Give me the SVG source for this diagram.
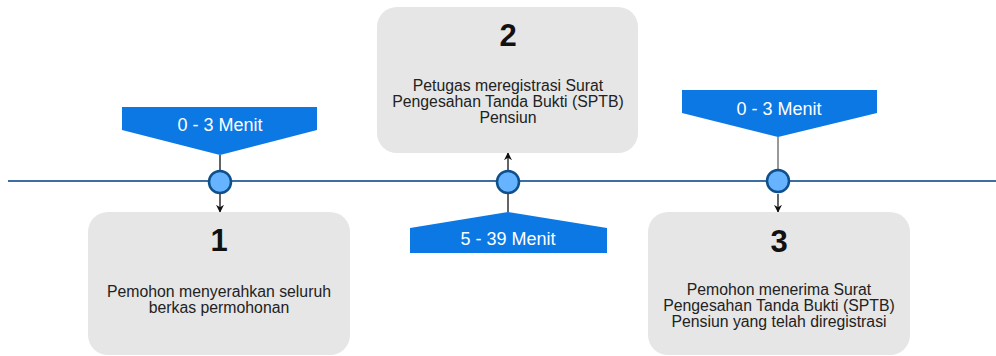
<svg xmlns="http://www.w3.org/2000/svg" width="996" height="356" viewBox="0 0 996 356">
<style>
.box{fill:#e6e6e6;stroke:none}
.ban{fill:#0b78e3}
.bt{font-family:"Liberation Sans",Arial,sans-serif;font-size:18px;fill:#ffffff;text-anchor:middle}
.num{font-family:"Liberation Sans",Arial,sans-serif;font-size:31px;font-weight:bold;fill:#111;text-anchor:middle}
.tx{font-family:"Liberation Sans",Arial,sans-serif;font-size:15.8px;fill:#222;text-anchor:middle}
.dot{fill:#66b3ff;stroke:#0e4f8c;stroke-width:2.5}
.c{stroke:#111;stroke-width:1.3;fill:none}
</style>
<defs>
<marker id="ah" viewBox="0 0 10 10" refX="9" refY="5" markerWidth="8" markerHeight="8" markerUnits="userSpaceOnUse" orient="auto">
<path d="M0,0 L10,5 L0,10 L3,5 z" fill="#111"/>
</marker>
</defs>
<line x1="8" y1="181" x2="996" y2="181" stroke="#3d6ea3" stroke-width="2"/>
<g id="connectors">
<line class="c" x1="220" y1="155" x2="220" y2="170"/>
<line class="c" x1="220" y1="194" x2="220" y2="212" marker-end="url(#ah)"/>
<line class="c" x1="508" y1="212" x2="508" y2="194"/>
<line class="c" x1="508" y1="170" x2="508" y2="153" marker-end="url(#ah)"/>
<line x1="778" y1="137" x2="778" y2="169" stroke="#777" stroke-width="1.5"/>
<line class="c" x1="778" y1="194" x2="778" y2="212" marker-end="url(#ah)"/>
</g>
<g id="node1">
<rect class="box" x="88" y="212" width="262" height="143" rx="20"/>
<text class="num" x="219" y="251">1</text>
<text class="tx" x="219" y="297">Pemohon menyerahkan seluruh</text>
<text class="tx" x="219" y="313">berkas permohonan</text>
</g>
<g id="node2">
<rect class="box" x="377" y="7" width="261" height="146" rx="20"/>
<text class="num" x="508" y="46">2</text>
<text class="tx" x="508" y="91">Petugas meregistrasi Surat</text>
<text class="tx" x="508" y="107">Pengesahan Tanda Bukti (SPTB)</text>
<text class="tx" x="508" y="123">Pensiun</text>
</g>
<g id="node3">
<rect class="box" x="648" y="212" width="262" height="143" rx="20"/>
<text class="num" x="779" y="252">3</text>
<text class="tx" x="779" y="295">Pemohon menerima Surat</text>
<text class="tx" x="779" y="311">Pengesahan Tanda Bukti (SPTB)</text>
<text class="tx" x="779" y="327">Pensiun yang telah diregistrasi</text>
</g>
<g id="banner1">
<polygon class="ban" points="122,107 317,107 317,130 220,155 122,130"/>
<text class="bt" x="220" y="131">0 - 3 Menit</text>
</g>
<g id="banner2">
<polygon class="ban" points="508,212 607,228 607,253 410,253 410,228"/>
<text class="bt" x="508" y="245">5 - 39 Menit</text>
</g>
<g id="banner3">
<polygon class="ban" points="682,90 877,90 877,113 778,137 682,113"/>
<text class="bt" x="779" y="115">0 - 3 Menit</text>
</g>
<g id="dots">
<circle class="dot" cx="220" cy="182" r="11"/>
<circle class="dot" cx="508" cy="182" r="11"/>
<circle class="dot" cx="778" cy="181" r="11"/>
</g>
</svg>
